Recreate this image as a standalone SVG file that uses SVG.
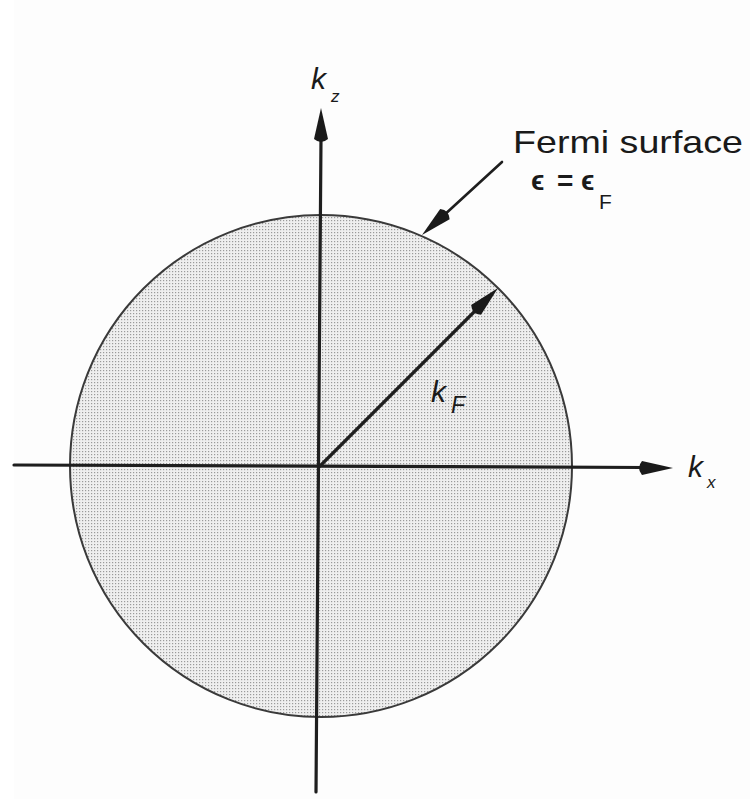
<svg xmlns="http://www.w3.org/2000/svg" width="750" height="799" viewBox="0 0 750 799">
<defs>
<pattern id="stipple" width="3" height="3" patternUnits="userSpaceOnUse">
<rect width="3" height="3" fill="#efefef"/>
<rect x="1" y="1" width="1.2" height="1.2" fill="#9a9a9a"/>
</pattern>
<path id="head" d="M0,0 L-31,-7 Q-37,0 -31,7 Z" fill="#1a1a1a"/>
<style>
.ax{stroke:#1e1e1e;stroke-width:3.2;fill:none;stroke-linecap:round}
.lbl{font-family:"Liberation Sans",Arial,sans-serif;fill:#1a1a1a}
.k{font-style:italic;font-size:30px}
</style>
</defs>
<rect width="750" height="799" fill="#ffffff"/>
<rect x="14" y="0" width="736" height="799" fill="#fdfdfd"/>
<g id="fermi-sphere">
<circle cx="321" cy="466" r="251" fill="url(#stipple)" stroke="#3a3a3a" stroke-width="2"/>
</g>
<g id="connectors">
<line class="ax" x1="14" y1="465" x2="645" y2="467.5"/>
<use href="#head" transform="translate(673,468) rotate(0.2)"/>
<line class="ax" x1="316" y1="792" x2="321" y2="138"/>
<use href="#head" transform="translate(321,108) rotate(-90)"/>
<line class="ax" x1="320" y1="466" x2="478" y2="308"/>
<use href="#head" transform="translate(498,288) rotate(-45)"/>
<line class="ax" style="stroke-width:2.6" x1="502" y1="162" x2="442" y2="217"/>
<use href="#head" transform="translate(422,235) rotate(137.6)"/>
</g>
<g id="label-kz">
<text class="lbl k" x="311" y="89" font-size="28">k</text>
<text class="lbl" x="331" y="102" font-size="17" font-style="italic">z</text>
</g>
<g id="label-kx">
<text class="lbl k" x="688" y="477">k</text>
<text class="lbl" x="707" y="488" font-size="17" font-style="italic">x</text>
</g>
<g id="label-kF">
<text class="lbl k" x="431" y="402">k</text>
<text class="lbl" x="451" y="413" font-size="23" font-style="italic">F</text>
</g>
<g id="label-fermi">
<text class="lbl" x="513" y="153" font-size="32" textLength="230" lengthAdjust="spacingAndGlyphs">Fermi surface</text>
<text class="lbl" y="190" font-size="28" font-weight="bold"><tspan x="531">ϵ</tspan><tspan x="557">=</tspan><tspan x="581">ϵ</tspan></text>
<text class="lbl" x="599" y="209" font-size="21">F</text>
</g>
</svg>
